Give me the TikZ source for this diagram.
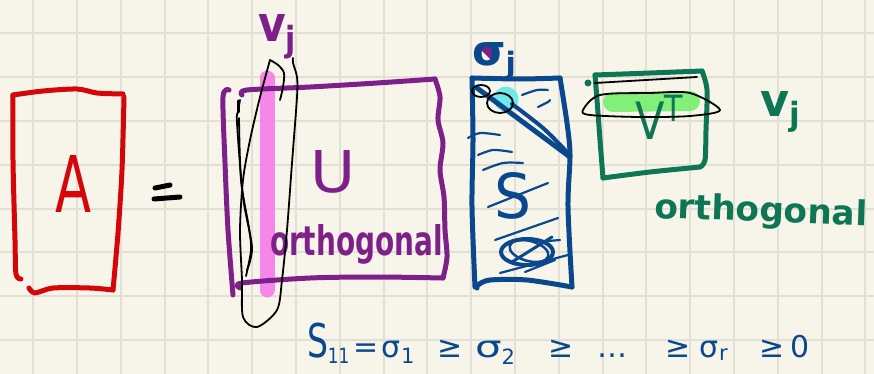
\documentclass[tikz,border=0pt]{standalone}
\usepackage{fontspec}
\setmainfont{DejaVu Sans}
\usepackage{graphicx}
\definecolor{paper}{RGB}{247,245,233}
\definecolor{gridc}{RGB}{226,224,212}
\definecolor{penred}{RGB}{212,6,10}
\definecolor{penpurple}{RGB}{126,32,138}
\definecolor{penpink}{RGB}{246,122,234}
\definecolor{penblue}{RGB}{10,72,142}
\definecolor{pencyan}{RGB}{110,234,234}
\definecolor{pengreen}{RGB}{14,118,84}
\definecolor{penlime}{RGB}{118,240,108}
\tikzset{
  pen/.style={line width=5pt, line cap=round, line join=round},
  fine/.style={line width=1.8pt, line cap=round, line join=round, black},
  hatch/.style={line width=2.2pt, line cap=round, line join=round, penblue},
  marker/.style={line cap=round, opacity=0.9},
  lbl/.style={inner sep=0pt, outer sep=0pt, anchor=base west, font=\bfseries},
  big/.style={inner sep=0pt, outer sep=0pt, anchor=base west, font=\mdseries},
}
% fixed-width slot for one token of the ordering line
\newcommand{\slot}[2]{\makebox[#1][l]{#2}}
\begin{document}
\begin{tikzpicture}[x=1pt,y=-1pt]
% paper and grid
\fill[paper] (0,0) rectangle (874,374);
\useasboundingbox (0,0) rectangle (874,374);
\foreach \i in {0,...,19} \draw[gridc, line width=2pt] ({33.2+43.8*\i},0) -- ({33.2+43.8*\i},374);
\foreach \j in {0,...,7} \draw[gridc, line width=2pt] (0,{33.3+43.8*\j}) -- (874,{33.3+43.8*\j});

% ---- matrix A ----
\draw[pen, penred] plot[smooth, tension=0.5] coordinates {(21,279) (16,274) (15,240) (13,160) (13,95)};
\draw[pen, penred] plot[smooth, tension=0.5] coordinates {(13,95) (43,91) (77,89) (97,93) (123,94)};
\draw[pen, penred] plot[smooth, tension=0.5] coordinates {(124,97) (122,170) (118,233) (113,290)};
\draw[pen, penred] plot[smooth, tension=0.5] coordinates {(113,290) (90,288) (53,288) (35,293) (29,288)};
\node[big, penred] (A) at (55,212) {\resizebox{36pt}{57pt}{A}};

% equals sign
\draw[pen, black] (155,188) -- (170,185);
\draw[pen, black] (154,199) -- (180,197);

% ---- matrix U ----
\draw[marker, penpink, line width=15pt] (267,78) -- (267,290);
\draw[pen, penpurple] plot[smooth, tension=0.5] coordinates {(229,90) (223,97) (225,163) (228,230) (233,295)};
\draw[pen, penpurple] plot[smooth, tension=0.5] coordinates {(242,95) (247,90) (310,87) (377,83) (435,79)};
\draw[pen, penpurple] plot[smooth, tension=0.5] coordinates {(435,79) (440,97) (438,120) (443,143) (440,170) (444,197) (445,230) (447,257) (443,278)};
\draw[pen, penpurple] plot[smooth, tension=0.5] coordinates {(443,278) (377,277) (310,278) (242,283) (240,288)};
\node[big, penpurple] (U) at (310,192) {\resizebox{45pt}{42pt}{U}};
\node[lbl, penpurple] (Uorth) at (270,255) {\resizebox{173pt}{31pt}{orthogonal}};
\node[lbl, penpurple] (uj) at (258,42) {\resizebox{40pt}{27pt}{v\textsubscript{j}}};
% pencil loop around the column
\draw[fine] plot[smooth, tension=0.5] coordinates {(270,60) (260,97) (250,140) (243,180) (240,230) (242,280) (243,317) (257,327) (277,310) (282,280) (287,230) (292,163) (297,97) (297,77) (293,63) (293,58)};
\draw[fine] plot[smooth, tension=0.5] coordinates {(270,60) (278,65) (284,73) (283,87) (280,100)};
\draw[fine] plot[smooth, tension=0.5] coordinates {(240,100) (238,112) (237,123) (243,197) (252,247) (247,270)};
\draw[fine] plot[smooth, tension=0.5] coordinates {(239,118) (241,180) (249,228) (251,250) (246,276)};
\draw[black, line width=3pt, line cap=round] (238,101) -- (238,112);

% ---- matrix S ----
\fill[pencyan] (506,99) circle (12.5);
\draw[pen, penblue] plot[smooth, tension=0.5] coordinates {(472,78) (473,140) (472,207) (475,287)};
\draw[pen, penblue] plot[smooth, tension=0.5] coordinates {(472,78) (520,79) (560,78)};
\draw[pen, penblue] plot[smooth, tension=0.5] coordinates {(560,78) (567,123) (570,155) (568,207) (572,287)};
\draw[pen, penblue] plot[smooth, tension=0.5] coordinates {(572,287) (527,280) (490,280) (478,285) (477,288)};
\draw[pen, penblue] (477,88) -- (570,157);
\draw[penblue, line width=4pt, line cap=round] plot[smooth] coordinates {(512,104) (543,128) (567,152)};
\draw[fine] (481,91) ellipse (9 and 6);
\draw[fine] (500,103) ellipse (13 and 10);
% shading strokes
\draw[hatch] plot[smooth] coordinates {(522,95) (537,90) (548,90)};
\draw[hatch] plot[smooth] coordinates {(538,107) (548,102) (550,100)};
\draw[hatch] plot[smooth] coordinates {(468,138) (480,133) (500,135)};
\draw[hatch] plot[smooth] coordinates {(478,155) (493,150) (512,152)};
\draw[hatch] plot[smooth] coordinates {(483,170) (503,163) (523,163)};
\draw[hatch] (488,207) -- (548,183);
\draw[hatch] (495,240) -- (558,218);
\draw[hatch] (500,273) -- (568,255);
\draw[hatch] (525,272) -- (555,260);
\draw[hatch] (548,241) -- (560,240);
\node[big, penblue] (S) at (494,218) {\resizebox{37pt}{46pt}{S}};
\draw[penblue, line width=4pt] (527,252) ellipse (26 and 13);
\draw[penblue, line width=2.5pt, rotate around={-15:(529,251)}] (529,251) ellipse (20 and 10);
\draw[hatch, line width=3pt] (512,262) -- (552,237);
\fill[penpurple] (478,47) -- (496,45) -- (494,63) -- cycle;
\node[lbl, penblue] (sj) at (472,66) {\resizebox{46pt}{23pt}{σ\textsubscript{j}}};

% ---- matrix V^T ----
\draw[marker, penlime, line width=20pt] (613,102) -- (690,101);
\draw[pen, pengreen] plot[smooth, tension=0.5] coordinates {(595,75) (650,73) (702,71)};
\draw[pen, pengreen] plot[smooth, tension=0.5] coordinates {(702,71) (707,90) (706,130) (705,160) (700,167)};
\draw[pen, pengreen] plot[smooth, tension=0.5] coordinates {(700,167) (650,172) (603,178)};
\draw[pen, pengreen] plot[smooth, tension=0.5] coordinates {(603,178) (600,140) (597,100) (595,75)};
\fill[pengreen] (588,83) circle (3.5);
\node[big, pengreen] (VT) at (635,140) {\resizebox{50pt}{45pt}{V\textsuperscript{T}}};
\draw[fine] (595,83) -- (697,77);
\draw[fine] plot[smooth cycle, tension=0.5] coordinates {(583,110) (600,95) (650,93) (690,93) (720,110) (690,116) (640,117) (590,115)};
\node[lbl, pengreen] (vj) at (760,117) {\resizebox{42pt}{25pt}{v\textsubscript{j}}};
\node[lbl, pengreen, rotate=-2] (Vorth) at (654,218) {\resizebox{213pt}{26pt}{orthogonal}};

% ---- ordering of the singular values ----
\node[inner sep=0pt, outer sep=0pt, anchor=base west, penblue, font=\fontsize{30}{30}\selectfont] (order) at (307,357)
  {\slot{46pt}{\scalebox{1.1}[1.55]{S}\textsubscript{\scalebox{0.8}[1]{11}}}\slot{29pt}{=}\slot{55pt}{σ\textsubscript{1}}\slot{38pt}{≥}\slot{73pt}{\scalebox{1.4}[1]{σ}\textsubscript{2}}\slot{46pt}{≥}\slot{72pt}{\hspace{4pt}…}\slot{34pt}{≥}\slot{59pt}{σ\textsubscript{r}}\slot{32pt}{≥}0};
\end{tikzpicture}
\end{document}
